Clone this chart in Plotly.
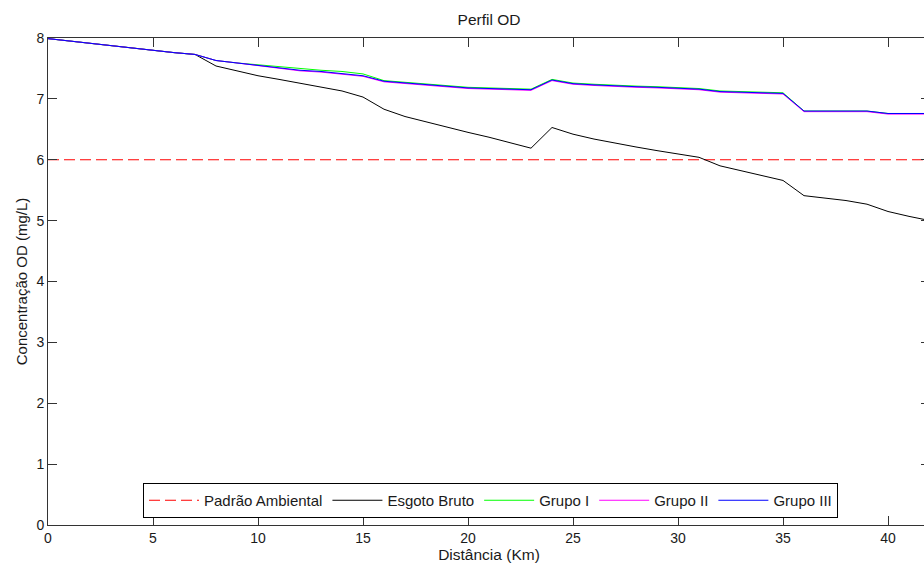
import plotly.graph_objects as go

# ---- data ----
dist_km = list(range(0, 43))

padrao_ambiental = [6.0] * len(dist_km)

esgoto_bruto = [7.99, 7.95, 7.91, 7.87, 7.83, 7.79, 7.76, 7.73,
                7.54, 7.46, 7.38, 7.32, 7.26, 7.20, 7.13, 7.03,
                6.83, 6.71, 6.62, 6.53, 6.45, 6.37, 6.28, 6.19,
                6.53, 6.42, 6.34, 6.27, 6.21, 6.15, 6.09, 6.04,
                5.90, 5.82, 5.75, 5.66, 5.41, 5.37, 5.33, 5.27,
                5.15, 5.07, 5.00]

grupo_iii = [7.99, 7.95, 7.91, 7.87, 7.83, 7.79, 7.76, 7.73,
             7.63, 7.59, 7.55, 7.51, 7.47, 7.45, 7.42, 7.38,
             7.29, 7.26, 7.23, 7.20, 7.18, 7.17, 7.16, 7.15,
             7.31, 7.25, 7.23, 7.21, 7.20, 7.19, 7.18, 7.16,
             7.12, 7.11, 7.10, 7.09, 6.80, 6.80, 6.80, 6.80,
             6.76, 6.76, 6.76]

grupo_i = [7.99, 7.95, 7.91, 7.87, 7.83, 7.79, 7.76, 7.73,
           7.63, 7.59, 7.56, 7.53, 7.49, 7.47, 7.45, 7.41,
           7.30, 7.27, 7.24, 7.21, 7.19, 7.18, 7.17, 7.16,
           7.32, 7.26, 7.24, 7.22, 7.21, 7.20, 7.19, 7.17,
           7.13, 7.12, 7.11, 7.10, 6.80, 6.80, 6.80, 6.80,
           6.76, 6.76, 6.76]

grupo_ii = [7.99, 7.95, 7.91, 7.87, 7.83, 7.79, 7.76, 7.73,
            7.63, 7.59, 7.55, 7.51, 7.46, 7.44, 7.41, 7.37,
            7.28, 7.25, 7.22, 7.19, 7.17, 7.16, 7.15, 7.14,
            7.30, 7.24, 7.22, 7.20, 7.19, 7.18, 7.17, 7.15,
            7.11, 7.10, 7.09, 7.08, 6.79, 6.79, 6.79, 6.79,
            6.75, 6.75, 6.75]

x_ticks = [0, 5, 10, 15, 20, 25, 30, 35, 40]
y_ticks = [0, 1, 2, 3, 4, 5, 6, 7, 8]

FONT = "Liberation Sans, Arial, Helvetica, sans-serif"
TXT = "#1a1a1a"

fig = go.Figure()
fig.add_trace(go.Scatter(x=dist_km, y=padrao_ambiental, mode="lines",
                         name="Padrão Ambiental",
                         line=dict(color="#FF0000", width=1, dash="11px,5px")))
fig.add_trace(go.Scatter(x=dist_km, y=esgoto_bruto, mode="lines",
                         name="Esgoto Bruto",
                         line=dict(color="#000000", width=1)))
fig.add_trace(go.Scatter(x=dist_km, y=grupo_i, mode="lines",
                         name="Grupo I",
                         line=dict(color="#00FF00", width=1)))
fig.add_trace(go.Scatter(x=dist_km, y=grupo_ii, mode="lines",
                         name="Grupo II",
                         line=dict(color="#FF00FF", width=1)))
fig.add_trace(go.Scatter(x=dist_km, y=grupo_iii, mode="lines",
                         name="Grupo III",
                         line=dict(color="#0000FF", width=1)))

axis_common = dict(
    showgrid=False, zeroline=False, showline=True, linecolor="#333333",
    linewidth=1, mirror="ticks", ticks="inside", ticklen=9, tickwidth=1,
    tickcolor="#333333", tickfont=dict(family=FONT, size=14, color=TXT),
)

fig.update_layout(
    width=936, height=565,
    margin=dict(l=48, r=6, t=38, b=40),
    paper_bgcolor="white", plot_bgcolor="white",
    title=dict(text="Perfil OD", x=(489 / 936), xanchor="center",
               y=1 - 20 / 565, yanchor="middle",
               font=dict(family=FONT, size=15.5, color=TXT)),
    xaxis=dict(range=[0, 42], tickvals=x_ticks, **axis_common,
               title=dict(text="Distância (Km)", standoff=3,
                          font=dict(family=FONT, size=15.5, color=TXT))),
    yaxis=dict(range=[0, 8], tickvals=y_ticks, **axis_common,
               title=dict(text="Concentração OD (mg/L)", standoff=5,
                          font=dict(family=FONT, size=15, color=TXT))),
    legend=dict(orientation="h", x=(143 - 48) / 882, xanchor="left",
                y=(525 - 518) / 487, yanchor="bottom",
                bgcolor="white", bordercolor="#000000", borderwidth=1,
                font=dict(family=FONT, size=15, color=TXT),
                itemwidth=50, tracegroupgap=0),
    showlegend=True,
)

fig.write_html("out.html",
               post_script="document.documentElement.style.overflow='hidden';"
                           "document.body.style.overflow='hidden';")
